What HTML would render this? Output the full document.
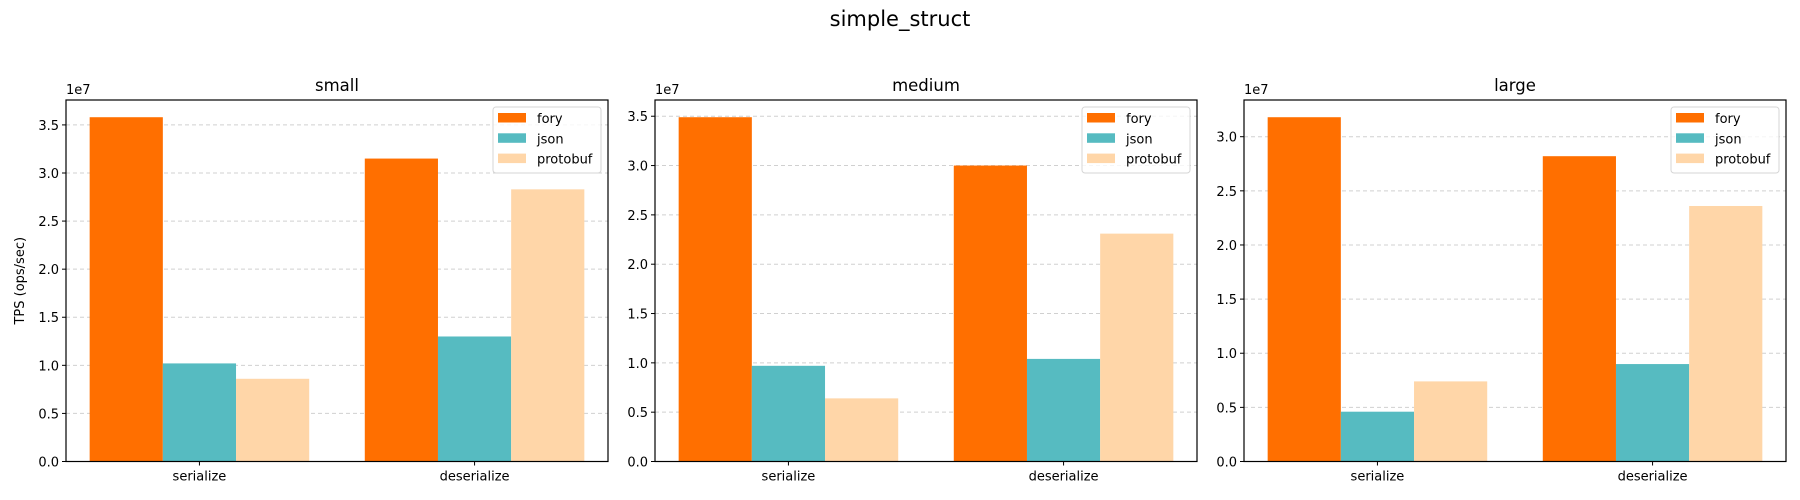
<!DOCTYPE html>
<html><head><meta charset="utf-8"><style>
body{margin:0;background:#fff;}
svg{display:block;font-family:"DejaVu Sans","Liberation Sans",sans-serif;}
</style></head><body>
<svg id="fig" width="1800" height="500" viewBox="0 0 1800 500" xmlns="http://www.w3.org/2000/svg">
<text x="900" y="26" text-anchor="middle" font-size="21" fill="#000">simple_struct</text>
</svg>
<script>
const panelTitles = ["small","medium","large"];
const categories = ["serialize","deserialize"];
const seriesNames = ["fory","json","protobuf"];
const seriesColors = ["#ff6f00","#56bbc1","#ffd6a8"];
// values in units of 1e7
const foryVals = [[3.58,3.15],[3.49,3.00],[3.18,2.82]];
const jsonVals = [[1.02,1.30],[0.97,1.04],[0.46,0.90]];
const protoVals = [[0.86,2.83],[0.64,2.31],[0.74,2.36]];
const yTicks = [0,0.5,1.0,1.5,2.0,2.5,3.0,3.5];

const NS="http://www.w3.org/2000/svg";
const svg=document.getElementById('fig');
function mk(tag,attrs,parent){const e=document.createElementNS(NS,tag);for(const k in attrs)e.setAttribute(k,attrs[k]);(parent||svg).appendChild(e);return e;}
const panelLeft=[66,655,1244], W=542, axTop=100, axBottom=461.5, H=axBottom-axTop;
for(let p=0;p<3;p++){
  const g=mk('g',{});
  
  
  const L=panelLeft[p];
  const all=[...foryVals[p],...jsonVals[p],...protoVals[p]];
  const ymax=Math.max(...all)*1.05;
  const y=v=>axBottom-v/ymax*H;
  const xmin=-0.485, xmax=1.485;
  const x=v=>L+(v-xmin)/(xmax-xmin)*W;
  const bw=0.266;
  yTicks.forEach(t=>{ if(t>ymax) return;
    const gl=mk('line',{x1:L,x2:L+W,y1:y(t),y2:y(t),stroke:'#d0d0d0','stroke-dasharray':'4,3','stroke-width':1},g);
    
    
  });
  const vals=[foryVals[p],jsonVals[p],protoVals[p]];
  for(let s=0;s<3;s++){
    for(let c=0;c<2;c++){
      const cx=c+(s-1)*bw;
      const r=mk('rect',{x:x(cx-bw/2),y:y(vals[s][c]),width:x(cx+bw/2)-x(cx-bw/2),height:axBottom-y(vals[s][c]),fill:seriesColors[s]},g);
      
      
    }
  }
  const fr=mk('rect',{x:L,y:axTop,width:W,height:H,fill:'none',stroke:'#000','stroke-width':1.2},g);
  
  
  yTicks.forEach(t=>{ if(t>ymax) return;
    mk('line',{x1:L-4,x2:L,y1:y(t),y2:y(t),stroke:'#000'},g);
    const tl=mk('text',{x:L-7,y:y(t)+5,'text-anchor':'end','font-size':13,fill:'#000'},g);
    tl.textContent=t.toFixed(1);
    
    
  });
  categories.forEach((c,i)=>{
    mk('line',{x1:x(i),x2:x(i),y1:axBottom,y2:axBottom+4,stroke:'#000'},g);
    const tl=mk('text',{x:x(i),y:axBottom+19,'text-anchor':'middle','font-size':13,fill:'#000'},g);
    tl.textContent=c;
    
    
  });
  const ex=mk('text',{x:L,y:axTop-6,'font-size':13,fill:'#000'},g);
  ex.textContent='1e7';
  
  
  const tt=mk('text',{x:L+W/2,y:axTop-9,'text-anchor':'middle','font-size':16.5,fill:'#000'},g);
  tt.textContent=panelTitles[p];
  
  
  const lg=mk('g',{},g);
  
  
  const lx=L+W-115, ly=axTop+7;
  mk('rect',{x:lx,y:ly,width:108,height:66,rx:3,fill:'#fff','fill-opacity':0.8,stroke:'#d6d6d6'},lg);
  seriesNames.forEach((n,i)=>{
    const e=mk('g',{},lg);
    
    
    mk('rect',{x:lx+5,y:ly+6+i*20.3,width:28,height:9.5,fill:seriesColors[i]},e);
    const t=mk('text',{x:lx+44,y:ly+16+i*20.3,'font-size':13,fill:'#000'},e);
    t.textContent=n;
  });
  if(p===0){
    const yl=mk('text',{x:0,y:0,'text-anchor':'middle','font-size':13,fill:'#000',transform:`translate(24,${axTop+H/2}) rotate(-90)`},g);
    yl.textContent='TPS (ops/sec)';
    
    
  }
}
</script>
</body></html>
